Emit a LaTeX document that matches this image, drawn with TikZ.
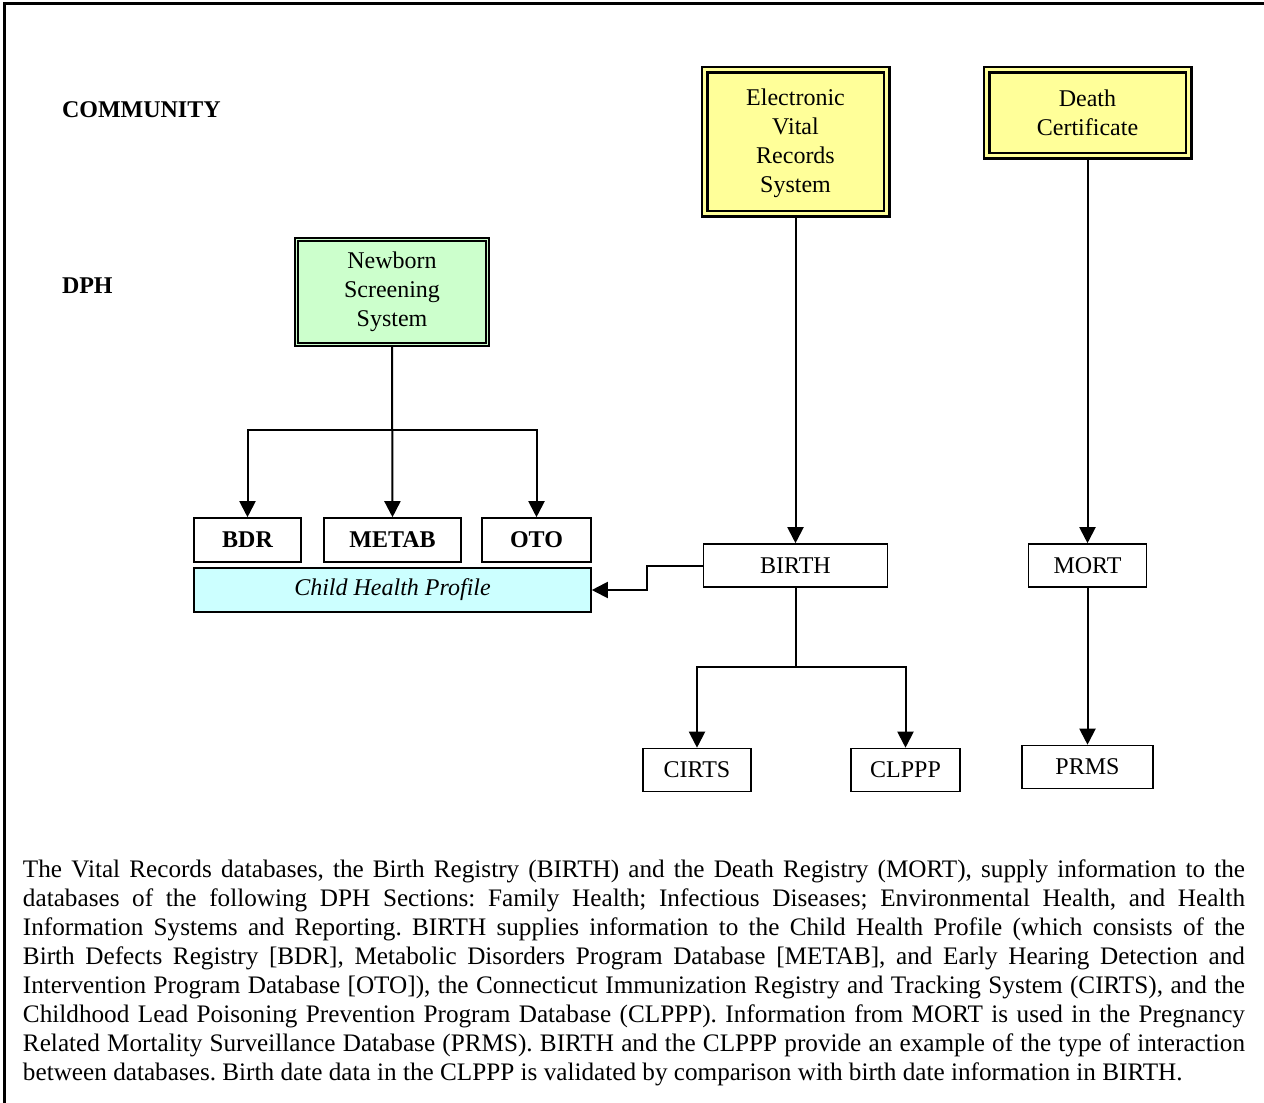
\documentclass[tikz,border=0pt]{standalone}
\usepackage{fontspec}
\setmainfont{Liberation Serif}
\usetikzlibrary{arrows.meta,positioning}

\definecolor{vitalyellow}{HTML}{FFFF99}
\definecolor{screengreen}{HTML}{CCFFCC}
\definecolor{profilecyan}{HTML}{CCFFFF}

\def\unit{0.5pt}

\begin{document}
\begin{tikzpicture}[x=\unit, y=-\unit, line width=1pt, >={Triangle[length=8pt,width=8pt]},
		font=\fontsize{12}{14.5}\selectfont]
		\tikzstyle{box}
		=[draw, rectangle, inner sep=0pt, align=center, fill=white, line width=0.8pt]
		\tikzstyle{db}
		=[box, font=\fontsize{12}{14.5}\selectfont\bfseries, minimum height=44*\unit]
		\tikzstyle{vital system}
		=[box, line width=1.4pt, double=vitalyellow, double distance=1.2pt, fill=vitalyellow]
		\tikzstyle{screen system}
		=[box, line width=0.9pt, double=screengreen, double distance=0.7pt, fill=screengreen]
		\tikzstyle{profile}
		=[box, fill=profilecyan, font=\fontsize{12}{14.5}\selectfont\itshape]
		\tikzstyle{level}
		=[anchor=west, inner sep=0pt, font=\fontsize{12}{14.5}\selectfont\bfseries]
		
		\useasboundingbox (0,0) rectangle (1264,1103);
		% Frame round the page
		\draw[line width=1.5pt] (4.5,1103) -- (4.5,3) -- (1264,3);
		
		% Levels
		\node[level] (community) at (61,110) {COMMUNITY};
		\node[level] (dph) at (61,286) {DPH};
		
		% Source systems
		\node[vital system, minimum width=182*\unit, minimum height=144*\unit] (EVRS)
		at (795.5,141.5) {\\[-4pt]Electronic\\Vital\\Records\\System};
		\node[vital system, minimum width=202*\unit, minimum height=86*\unit] (DC)
		at (1087.5,112.5) {Death\\Certificate};
		\node[screen system, minimum width=191*\unit, minimum height=105*\unit] (NSS)
		at (392,292) {Newborn\\Screening\\System};
		
		% Draw the child health profile databases
		\foreach \name / \x / \w in {BDR/247.5/107, METAB/392.5/137, OTO/536.5/109}
		\node[db, minimum width=\w*\unit] (\name) at (\x,540) {\name};
		\node[profile, minimum width=397*\unit, minimum height=44*\unit] (CHP)
		at (392.5,590) {Child Health Profile};
		
		% Draw the registries and the databases they supply
		\foreach \name / \x / \y / \w in {BIRTH/795.5/565.5/184, MORT/1087.5/565.5/118,
			CIRTS/697/770/108, CLPPP/905.5/770/109, PRMS/1087.5/767/131}
		\node[db, font=\fontsize{12}{14.5}\selectfont, minimum width=\w*\unit,
		minimum height=43*\unit] (\name) at (\x,\y) {\name};
		
		% Connect the newborn screening system with its databases
		\draw[->] (NSS.south) -- (METAB.north);
		\foreach \dest in {BDR,OTO} \draw[->] (NSS.south) -- ++(0,85) -| (\dest.north);
		
		% Connect the vital records with the registries
		\draw[->] (EVRS.south) -- (BIRTH.north);
		\draw[->] (DC.south) -- (MORT.north);
		\draw[->] (MORT.south) -- (PRMS.north);
		\draw[->] (BIRTH.west) -- ++(-56,0) |- (CHP.east);
		\foreach \dest in {CIRTS,CLPPP} \draw[->] (BIRTH.south) -- ++(0,79) -| (\dest.north);
		
		% Caption
		\node[anchor=north west, text width=611pt, align=justify, inner sep=0pt,
		font=\fontsize{12.6}{14.5}\selectfont\frenchspacing] (caption)
		at (22,859) {The Vital Records databases, the Birth Registry (BIRTH) and the Death
			Registry (MORT), supply information to the\linebreak databases of the following DPH
			Sections: Family Health; Infectious Diseases; Environmental Health, and
			Health\linebreak Information Systems and Reporting. BIRTH supplies information to
			the Child Health Profile (which consists of the\linebreak Birth Defects Registry
			[BDR], Metabolic Disorders Program Database [METAB], and Early Hearing Detection
			and\linebreak Intervention Program Database [OTO]), the Connecticut Immunization
			Registry and Tracking System (CIRTS), and the\linebreak Childhood Lead Poisoning
			Prevention Program Database (CLPPP). Information from MORT is used in the
			Pregnancy\linebreak Related Mortality Surveillance Database (PRMS). BIRTH and the
			CLPPP provide an example of the type of interaction\linebreak between databases.
			Birth date data in the CLPPP is validated by comparison with birth date
			information in BIRTH.};
	\end{tikzpicture}
\end{document}
